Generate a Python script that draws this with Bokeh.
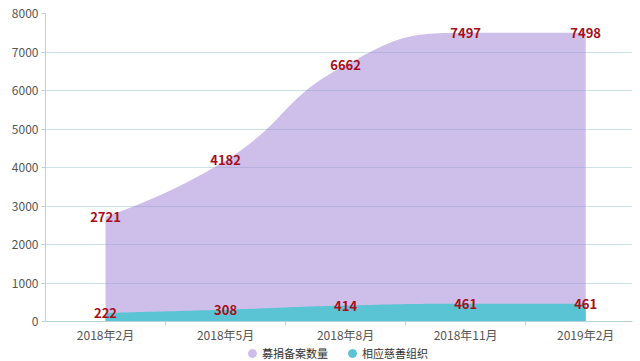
import math
from bokeh.plotting import figure
from bokeh.layouts import column
from bokeh.models import Range1d, FixedTicker, Legend, LegendItem, ColumnDataSource
from bokeh.core.properties import value
from bokeh.embed import file_html
from bokeh.resources import INLINE

categories = ["2018年2月", "2018年5月", "2018年8月", "2018年11月", "2019年2月"]
donations = [2721, 4182, 6662, 7497, 7498]
orgs = [222, 308, 414, 461, 461]
series_names = ["募捐备案数量", "相应慈善组织"]
y_ticks = [0, 1000, 2000, 3000, 4000, 5000, 6000, 7000, 8000]

FONT = "Noto Sans CJK SC"
PURPLE = "#9e7fd6"
PURPLE_SOLID = "#cdbde9"
TEAL = "#5bc4d4"
LABEL_RED = "#a80d18"
AXIS_COL = "#b4d6db"
GRID_COL = "#cde2e5"

# pixel scale used only for the smoothing geometry
PX_X = 120.0
PX_Y = 308.0 / 8000.0


def smooth_curve(ys, smooth=0.5, samples=30):
    pts = [(i * PX_X, v * PX_Y) for i, v in enumerate(ys)]
    n = len(pts)
    out_x = [pts[0][0]]
    out_y = [pts[0][1]]
    cp0 = pts[0]
    for i in range(1, n):
        px, py = pts[i - 1]
        x, y = pts[i]
        if i == n - 1:
            cp1 = (x, y)
            ncp0 = (x, y)
        else:
            nx, ny = pts[i + 1]
            vx, vy = nx - px, ny - py
            lp = math.hypot(x - px, y - py)
            ln = math.hypot(nx - x, ny - y)
            r = ln / (ln + lp)
            ncx = x + vx * smooth * r
            ncy = y + vy * smooth * r
            ncx = min(ncx, max(nx, x)); ncy = min(ncy, max(ny, y))
            ncx = max(ncx, min(nx, x)); ncy = max(ncy, min(ny, y))
            vx, vy = ncx - x, ncy - y
            c1x = x - vx * lp / ln
            c1y = y - vy * lp / ln
            c1x = min(c1x, max(px, x)); c1y = min(c1y, max(py, y))
            c1x = max(c1x, min(px, x)); c1y = max(c1y, min(py, y))
            vx, vy = x - c1x, y - c1y
            ncx = x + vx * ln / lp
            ncy = y + vy * ln / lp
            cp1 = (c1x, c1y)
            ncp0 = (ncx, ncy)
        for k in range(1, samples + 1):
            t = k / samples
            a = (1 - t) ** 3
            b = 3 * (1 - t) ** 2 * t
            c = 3 * (1 - t) * t ** 2
            d = t ** 3
            out_x.append(a * px + b * cp0[0] + c * cp1[0] + d * x)
            out_y.append(a * py + b * cp0[1] + c * cp1[1] + d * y)
        cp0 = ncp0
    return [v / PX_X for v in out_x], [v / PX_Y for v in out_y]


p = figure(width=640, height=345, output_backend="svg", toolbar_location=None,
           x_range=Range1d(-0.5, 4.39), y_range=Range1d(0, 8000),
           min_border_left=45, min_border_right=8, min_border_top=13, min_border_bottom=24)
p.outline_line_color = None
p.background_fill_color = "white"
p.border_fill_color = "white"

sx, sy = smooth_curve(donations)
p.varea(x=sx, y1=[0] * len(sx), y2=sy, fill_color=PURPLE, fill_alpha=0.5)
tx, ty = smooth_curve(orgs)
p.varea(x=tx, y1=[0] * len(tx), y2=ty, fill_color=TEAL, fill_alpha=1.0)

idx = list(range(len(categories)))
lab_src = ColumnDataSource(dict(x=idx + idx, y=donations + orgs,
                                t=[str(v) for v in donations + orgs]))
p.text(x="x", y="y", text="t", source=lab_src, text_align="center", text_baseline="middle",
       text_font=value(FONT), text_font_size="13px", text_font_style="bold",
       text_color=LABEL_RED)

# grid
p.xgrid.grid_line_color = None
p.ygrid.ticker = FixedTicker(ticks=y_ticks)
p.ygrid.grid_line_color = GRID_COL
p.ygrid.grid_line_width = 1

# y axis
p.yaxis.ticker = FixedTicker(ticks=y_ticks)
p.yaxis.axis_line_color = AXIS_COL
p.yaxis.major_tick_line_color = AXIS_COL
p.yaxis.major_tick_out = 4
p.yaxis.major_tick_in = 0
p.yaxis.minor_tick_line_color = None
p.yaxis.major_label_text_font = FONT
p.yaxis.major_label_text_font_size = "12px"
p.yaxis.major_label_text_color = "#555555"
p.yaxis.major_label_standoff = 3

# x axis
p.xaxis.ticker = FixedTicker(ticks=idx, minor_ticks=[0.5, 1.5, 2.5, 3.5])
p.xaxis.major_label_overrides = {i: c for i, c in enumerate(categories)}
p.xaxis.axis_line_color = AXIS_COL
p.xaxis.major_tick_line_color = None
p.xaxis.major_tick_out = 0
p.xaxis.major_tick_in = 0
p.xaxis.minor_tick_line_color = AXIS_COL
p.xaxis.minor_tick_out = 4
p.xaxis.minor_tick_in = 0
p.xaxis.major_label_text_font = FONT
p.xaxis.major_label_text_font_size = "12px"
p.xaxis.major_label_text_color = "#555555"
p.xaxis.major_label_standoff = 0

# legend strip (separate small figure)
lg = figure(width=640, height=16, output_backend="svg", toolbar_location=None,
            x_range=Range1d(0, 1), y_range=Range1d(0, 1),
            x_axis_location=None, y_axis_location=None,
            min_border=0, min_border_left=0, min_border_right=0,
            min_border_top=0, min_border_bottom=0)
lg.grid.visible = False
lg.outline_line_color = None
r1 = lg.scatter(x=[-5], y=[-5], marker="circle", size=10, fill_color=PURPLE_SOLID, line_color=PURPLE_SOLID)
r2 = lg.scatter(x=[-5], y=[-5], marker="circle", size=10, fill_color=TEAL, line_color=TEAL)
legend = Legend(items=[LegendItem(label=series_names[0], renderers=[r1]),
                       LegendItem(label=series_names[1], renderers=[r2])],
                orientation="horizontal", location=(197, -2),
                label_text_font=FONT, label_text_font_size="11px", label_text_color="#333333",
                glyph_width=20, glyph_height=20, label_standoff=0, spacing=14,
                label_height=14, padding=0, margin=0,
                border_line_color=None, background_fill_alpha=0)
lg.add_layout(legend, "center")

layout = column(p, lg, spacing=0)
open("out.html", "w").write(file_html(layout, INLINE))
